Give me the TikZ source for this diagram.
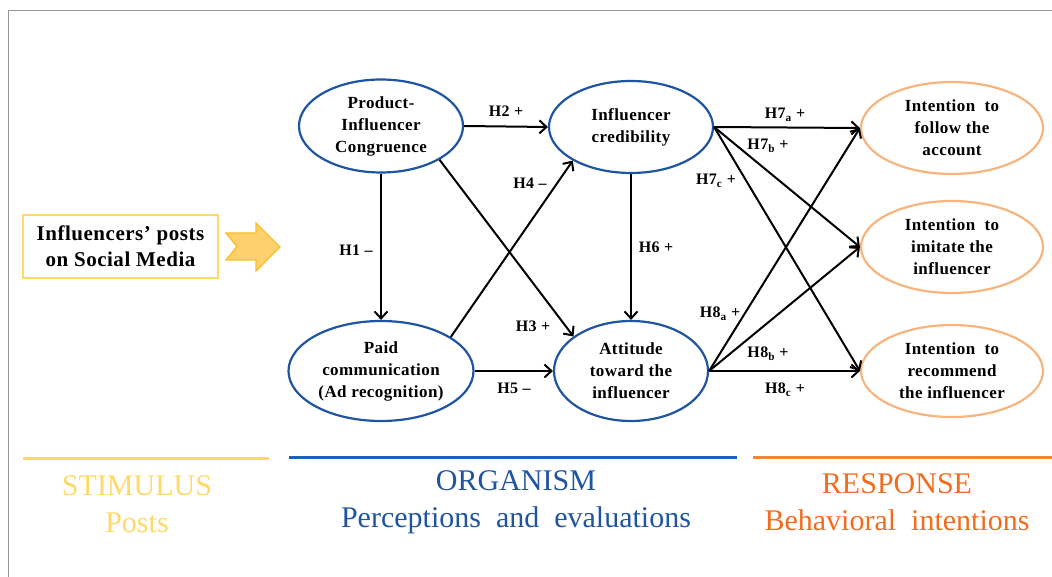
\documentclass[tikz,border=0pt]{standalone}
\usepackage{xcolor}
\usepackage{fontspec}
\setmainfont{Liberation Serif}
\newfontfamily\spacedfont{Liberation Serif}[LetterSpace=2.5]
\usetikzlibrary{shapes.geometric,arrows.meta}
\definecolor{stimyellow}{RGB}{255, 217, 102}
\definecolor{orgblue}{RGB}{31, 85, 160}
\definecolor{lineblue}{RGB}{21, 101, 192}
\definecolor{respdark}{RGB}{242, 108, 30}
\definecolor{respline}{RGB}{246, 135, 50}
\definecolor{resplight}{RGB}{248, 180, 125}
\definecolor{arrowfill}{RGB}{255, 208, 110}
\definecolor{arrowedge}{RGB}{250, 190, 40}
\definecolor{framegray}{RGB}{150, 150, 150}

\tikzset{
    construct/.style={ellipse, draw=orgblue, line width=2.2pt, inner sep=0pt, align=center,
        font=\spacedfont\bfseries\fontsize{17}{22}\selectfont},
    outcome/.style={construct, draw=resplight, minimum width=182pt, minimum height=92pt},
    hyp/.style={line width=2pt, -{Straight Barb[length=7pt,width=13pt]}},
    hlabel/.style={font=\spacedfont\bfseries\fontsize{16}{18}\selectfont, inner sep=1pt},
    phase/.style={align=center, font=\fontsize{30}{37}\selectfont},
}

\begin{document}
\begin{tikzpicture}[x=1pt, y=-1pt]
    \useasboundingbox (0,0) rectangle (1052,577);
    \draw[framegray, line width=1.2pt] (8.5,577) -- (8.5,10.5) -- (1052,10.5);

    % stimulus
    \node[draw=stimyellow, line width=1.8pt, minimum width=195pt, minimum height=63pt, align=center,
        font=\spacedfont\bfseries\fontsize{21}{26}\selectfont] (posts) at (120.5,246.5)
        {Influencers’ posts\\on Social Media};
    \draw[fill=arrowfill, draw=arrowedge, line width=1.4pt, line join=miter]
        (226,233) -- (256,233) -- (256,223) -- (280,247) -- (256,271) -- (256,260) -- (226,260) -- (237,246.5) -- cycle;

    % organism
    \node[construct, minimum width=164pt, minimum height=93pt] (congr) at (381,126) {Product-\\Influencer\\Congruence};
    \node[construct, minimum width=164pt, minimum height=92pt] (cred) at (631,127) {Influencer\\credibility};
    \node[construct, minimum width=185pt, minimum height=100pt] (paid) at (381,371) {Paid\\communication\\(Ad recognition)};
    \node[construct, minimum width=154pt, minimum height=100pt] (att) at (631,371) {Attitude\\toward the\\influencer};

    % response
    \node[outcome] (follow) at (952,128) {Intention~ to\\follow the\\account};
    \node[outcome] (imitate) at (952,247) {Intention~ to\\imitate the\\influencer};
    \node[outcome] (recommend) at (952,371) {Intention~ to\\recommend\\the influencer};

    % hypotheses
    \draw[hyp] (congr.south) -- (paid.north);
    \draw[hyp] (congr.east) -- (cred.west);
    \draw[hyp] (congr.-30) -- (att.149);
    \draw[hyp] (paid.26) -- (cred.-150);
    \draw[hyp] (paid.east) -- (att.west);
    \draw[hyp] (cred.south) -- (att.north);
    \draw[hyp] (cred.east) -- (follow.west);
    \draw[hyp] (cred.east) -- (imitate.west);
    \draw[hyp] (cred.east) -- (recommend.west);
    \draw[hyp] (att.east) -- (follow.west);
    \draw[hyp] (att.east) -- (imitate.west);
    \draw[hyp] (att.east) -- (recommend.west);

    \node[hlabel] (h1) at (356,250) {H1 –};
    \node[hlabel] (h2) at (506,111) {H2 +};
    \node[hlabel] (h3) at (533,326) {H3 +};
    \node[hlabel] (h4) at (530,183) {H4 –};
    \node[hlabel] (h5) at (514,388) {H5 –};
    \node[hlabel] (h6) at (656,247) {H6 +};
    \node[hlabel] (h7a) at (785,115) {H7\textsubscript{a} +};
    \node[hlabel] (h7b) at (768,146) {H7\textsubscript{b} +};
    \node[hlabel] (h7c) at (716,181) {H7\textsubscript{c} +};
    \node[hlabel] (h8a) at (720,314) {H8\textsubscript{a} +};
    \node[hlabel] (h8b) at (768,354) {H8\textsubscript{b} +};
    \node[hlabel] (h8c) at (785,390) {H8\textsubscript{c} +};

    % phases
    \draw[stimyellow, line width=3pt] (23,458) -- (269,458);
    \draw[lineblue, line width=3pt] (289,457) -- (737,457);
    \draw[respline, line width=3pt] (753,457) -- (1052,457);
    \node[phase, text=stimyellow] (stim) at (137,504) {STIMULUS\\Posts};
    \node[phase, text=orgblue] (org) at (516,502) {ORGANISM\\Perceptions~ and~ evaluations};
    \node[phase, text=respdark] (resp) at (897,502) {RESPONSE\\Behavioral~ intentions};
\end{tikzpicture}
\end{document}
